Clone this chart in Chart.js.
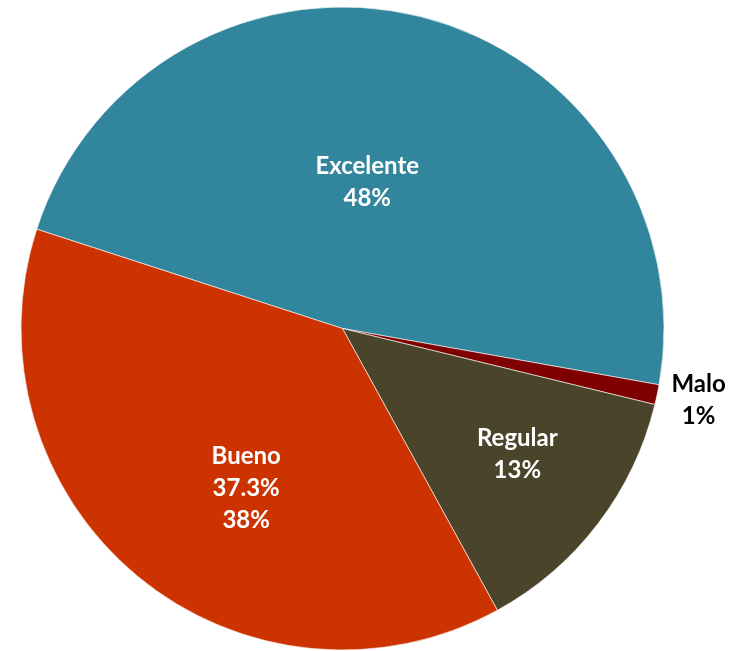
<!DOCTYPE html>
<html lang="es">
<head>
  <meta charset="UTF-8">
  <title>Calificación</title>
  <style>
    html, body { margin: 0; padding: 0; background: #fff; }
    .chart-container { position: relative; width: 740px; height: 651px; }
  </style>
</head>
<body>
<div class="chart-container">
  <canvas id="pieChart"></canvas>
</div>

<script src="https://cdn.jsdelivr.net/npm/chart.js@4/dist/chart.umd.min.js"></script>
<script>
  // data
  const categories = ['Excelente', 'Malo', 'Regular', 'Bueno'];
  const values = [47.8, 1.0, 13.2, 38.0];
  const labelLines = [['Excelente', '48%'], ['Malo', '1%'], ['Regular', '13%'], ['Bueno', '37.3%', '38%']];
  const sliceColors = ['#31859C', '#7F0000', '#4A452A', '#CC3300'];

  // label placement: radial fraction and angle nudge (degrees) per slice
  const labelRadius = [0.46, 1.13, 0.67, 0.58];
  const labelNudge = [-4.4, -0.5, -1.7, -8.5];
  const labelColors = ['#ffffff', '#000000', '#ffffff', '#ffffff'];

  const sliceLabels = {
    id: 'sliceLabels',
    afterDatasetsDraw(chart) {
      const ctx = chart.ctx;
      const arcs = chart.getDatasetMeta(0).data;
      ctx.save();
      ctx.font = 'bold 24px Lato, "Open Sans", sans-serif';
      ctx.textAlign = 'center';
      ctx.textBaseline = 'middle';
      arcs.forEach((arc, i) => {
        const p = arc.getProps(['x', 'y', 'startAngle', 'endAngle', 'outerRadius'], true);
        const mid = (p.startAngle + p.endAngle) / 2 + labelNudge[i] * Math.PI / 180;
        const r = p.outerRadius * labelRadius[i];
        const cx = p.x + Math.cos(mid) * r;
        const cy = p.y + Math.sin(mid) * r;
        const lines = labelLines[i];
        const lh = 32;
        ctx.fillStyle = labelColors[i];
        lines.forEach((t, k) => {
          ctx.fillText(t, cx, cy + (k - (lines.length - 1) / 2) * lh);
        });
      });
      ctx.restore();
    }
  };

  new Chart(document.getElementById('pieChart'), {
    type: 'pie',
    data: {
      labels: categories,
      datasets: [{
        data: values,
        backgroundColor: sliceColors,
        borderColor: '#ffffff',
        borderWidth: 0.6
      }]
    },
    options: {
      responsive: true,
      maintainAspectRatio: false,
      animation: false,
      rotation: 288,
      radius: 321.5,
      layout: { padding: { left: 21, top: 7, right: 76, bottom: 1 } },
      plugins: {
        legend: { display: false },
        tooltip: { enabled: false }
      }
    },
    plugins: [sliceLabels]
  });
</script>
</body>
</html>
